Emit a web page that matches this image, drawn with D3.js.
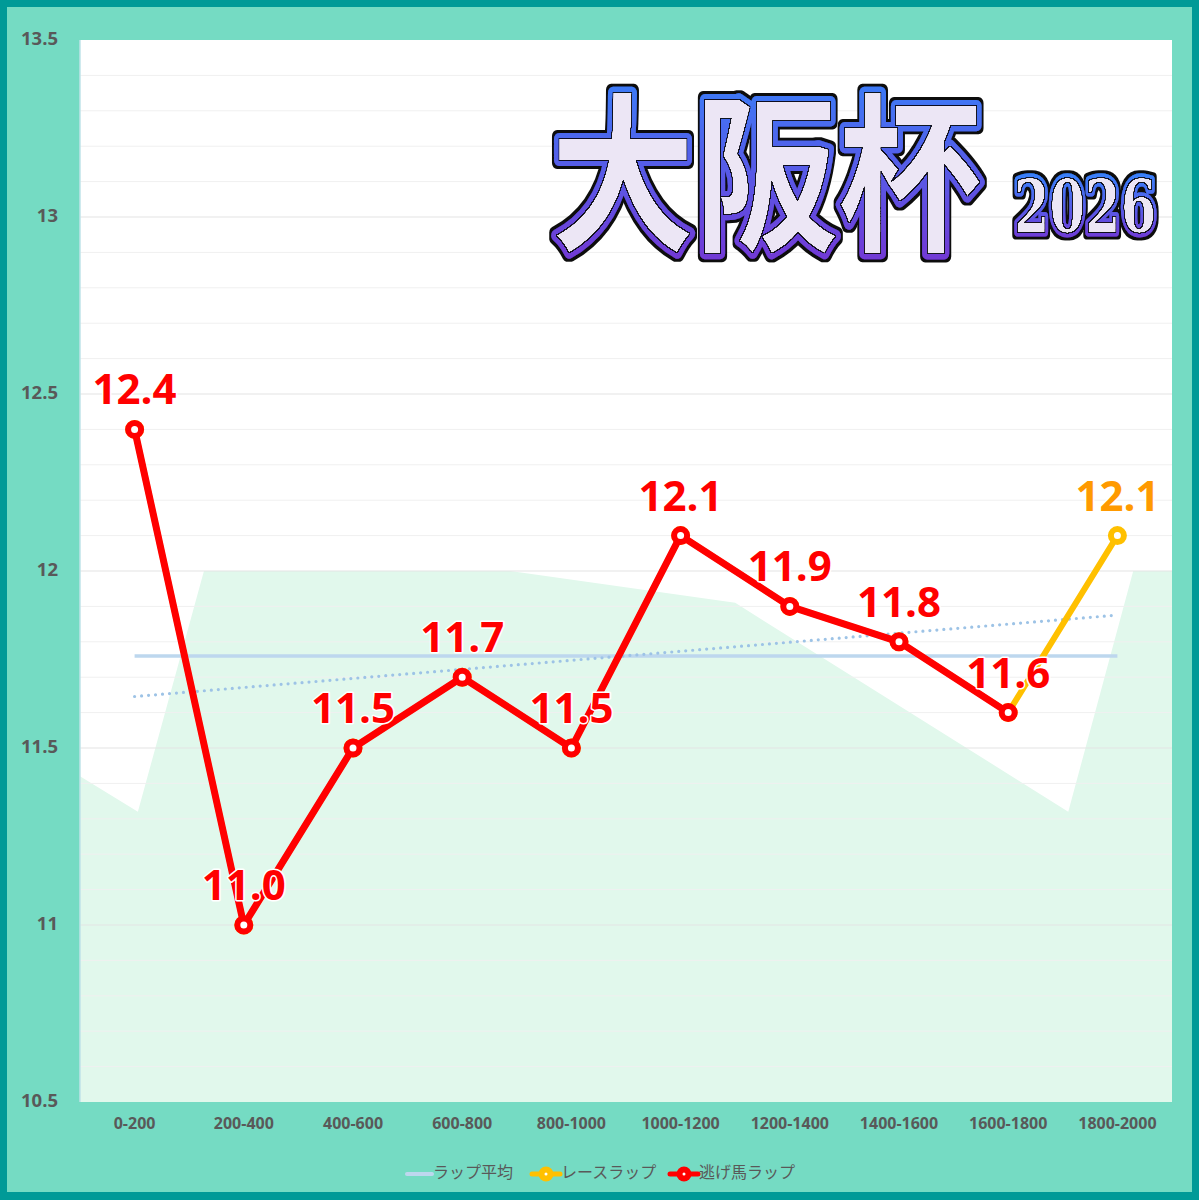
<!DOCTYPE html>
<html><head><meta charset="utf-8">
<script src="https://cdn.jsdelivr.net/npm/d3@7"></script>
<style>html,body{margin:0;padding:0;background:#fff;}svg{display:block;}</style>
</head><body>
<svg id="chart" width="1199" height="1200"></svg>
<script>
// ---- data ----
const categories = ["0-200","200-400","400-600","600-800","800-1000","1000-1200","1200-1400","1400-1600","1600-1800","1800-2000"];
const raceLap = [12.4,11.0,11.5,11.7,11.5,12.1,11.9,11.8,11.6,12.1];
const leaderLap = [12.4,11.0,11.5,11.7,11.5,12.1,11.9,11.8,11.6];
const yTicks = [10.5,11,11.5,12,12.5,13,13.5];
const bgDist = [0,106,227,788,1200,1810,1929,2000];
const bgValue = [11.42,11.32,12.0,12.0,11.91,11.32,12.0,12.0];
const legendLabels = ["ラップ平均","レースラップ","逃げ馬ラップ"];
const titleText = "大阪杯";
const yearText = "2026";

// ---- setup ----
const W = 1199, H = 1200;
const plot = {l:80, r:1172, t:40, b:1102};
const svg = d3.select("#chart");
const defs = svg.append("defs");
const grad = defs.append("linearGradient").attr("id","tg").attr("x1",0).attr("y1",0).attr("x2",0).attr("y2",1);
grad.append("stop").attr("offset","0%").attr("stop-color","#2F8BFF");
grad.append("stop").attr("offset","100%").attr("stop-color","#7A2FD0");

// outline filter: black outer edge + thin black line around the lavender fill
const f = defs.append("filter").attr("id","outline").attr("x","-10%").attr("y","-20%").attr("width","120%").attr("height","140%");
f.append("feMorphology").attr("in","SourceAlpha").attr("operator","dilate").attr("radius",2.5).attr("result","dil");
f.append("feFlood").attr("flood-color","#111").attr("result","blk");
f.append("feComposite").attr("in","blk").attr("in2","dil").attr("operator","in").attr("result","outer");
f.append("feColorMatrix").attr("in","SourceGraphic").attr("type","matrix")
  .attr("values","0 0 0 0 0  0 0 0 0 0  0 0 0 0 0  0 10 0 0 -7").attr("result","fm");
f.append("feMorphology").attr("in","fm").attr("operator","dilate").attr("radius",1.3).attr("result","fmd");
f.append("feComposite").attr("in","fmd").attr("in2","fm").attr("operator","out").attr("result","ring");
f.append("feComposite").attr("in","blk").attr("in2","ring").attr("operator","in").attr("result","inner");
const fm = f.append("feMerge");
fm.append("feMergeNode").attr("in","outer");
fm.append("feMergeNode").attr("in","SourceGraphic");
fm.append("feMergeNode").attr("in","inner");

svg.append("rect").attr("width",W).attr("height",H).attr("fill","#009A97");
svg.append("rect").attr("x",7).attr("y",7).attr("width",1185).attr("height",1185).attr("fill","#75DBC3");
svg.append("rect").attr("x",plot.l).attr("y",plot.t).attr("width",plot.r-plot.l).attr("height",plot.b-plot.t).attr("fill","#FFFFFF");

const x = d3.scaleBand().domain(categories).range([plot.l,plot.r]).padding(0);
const cx = c => x(c) + x.bandwidth()/2;
const y = d3.scaleLinear().domain([10.5,13.5]).range([plot.b,plot.t]);
const xd = d3.scaleLinear().domain([0,2000]).range([plot.l,plot.r]);

// background area
const bgData = bgDist.map((d,i)=>({d, v:bgValue[i]}));
svg.append("path").datum(bgData)
  .attr("d", d3.area().x(p=>xd(p.d)).y0(y(10.5)).y1(p=>y(p.v)))
  .attr("fill","#E1F8EC");

// gridlines
const minor = d3.range(10.6,13.5,0.1).map(v=>+v.toFixed(1)).filter(v=>!yTicks.includes(v));
svg.append("g").selectAll("line").data(minor).join("line")
  .attr("x1",plot.l).attr("x2",plot.r).attr("y1",d=>y(d)).attr("y2",d=>y(d))
  .attr("stroke","#F0F0F0").attr("stroke-width",1);
svg.append("g").selectAll("line").data(yTicks.slice(1,-1)).join("line")
  .attr("x1",plot.l).attr("x2",plot.r).attr("y1",d=>y(d)).attr("y2",d=>y(d))
  .attr("stroke","#E3E3E3").attr("stroke-width",1.2);
svg.append("line").attr("x1",plot.l).attr("x2",plot.l).attr("y1",plot.t).attr("y2",plot.b)
  .attr("stroke","#BFE3E8").attr("stroke-width",1.5);

// y axis
const yAxis = d3.axisLeft(y).tickValues(yTicks).tickFormat(d=>d3.format("")(d)).tickSize(0).tickPadding(0);
const ya = svg.append("g").attr("transform",`translate(58,0)`).call(yAxis);
ya.select(".domain").remove();
ya.selectAll("text").attr("font-family","'Open Sans',sans-serif").attr("font-weight",700)
  .attr("font-size",18.5).attr("fill","#595959").attr("dy","0.0em").attr("dominant-baseline","middle");

// x axis
const xAxis = d3.axisBottom(x).tickSize(0).tickPadding(0);
const xa = svg.append("g").attr("transform",`translate(0,1117)`).call(xAxis);
xa.select(".domain").remove();
xa.selectAll("text").attr("font-family","'Open Sans',sans-serif").attr("font-weight",700)
  .attr("font-size",16).attr("fill","#595959").attr("dy","0.72em");

// average line
const avg = d3.mean(raceLap);
svg.append("line").attr("x1",cx(categories[0])).attr("x2",cx(categories[categories.length-1]))
  .attr("y1",y(avg)).attr("y2",y(avg)).attr("stroke","#BDD7EE").attr("stroke-width",3.5);

// linear trend of race lap
const n = raceLap.length, mx = (n+1)/2, my = avg;
let sxy=0,sxx=0; raceLap.forEach((v,i)=>{sxy+=(i+1-mx)*(v-my); sxx+=(i+1-mx)*(i+1-mx);});
const slope = sxy/sxx, icpt = my - slope*mx;
svg.append("line").attr("x1",cx(categories[0])).attr("x2",cx(categories[n-1])-4)
  .attr("y1",y(icpt+slope)).attr("y2",y(icpt+slope*n))
  .attr("stroke","#9DC3E6").attr("stroke-width",3.2).attr("stroke-linecap","round").attr("stroke-dasharray","0 7");

// race lap (yellow)
const line = d3.line().x((d,i)=>cx(categories[i])).y(d=>y(d));
svg.append("path").datum(raceLap).attr("d",line).attr("fill","none")
  .attr("stroke","#FFC000").attr("stroke-width",6).attr("stroke-linejoin","round");
svg.append("g").selectAll("circle").data(raceLap).join("circle")
  .attr("cx",(d,i)=>cx(categories[i])).attr("cy",d=>y(d)).attr("r",6.5)
  .attr("fill","#fff").attr("stroke","#FFC000").attr("stroke-width",6);

// leader lap (red)
svg.append("path").datum(leaderLap).attr("d",line).attr("fill","none")
  .attr("stroke","#FF0000").attr("stroke-width",7).attr("stroke-linejoin","round");
svg.append("g").selectAll("circle").data(leaderLap).join("circle")
  .attr("cx",(d,i)=>cx(categories[i])).attr("cy",d=>y(d)).attr("r",6.5)
  .attr("fill","#fff").attr("stroke","#FF0000").attr("stroke-width",6);

// labels
const labelData = raceLap.map((v,i)=>({v,i,color: i<leaderLap.length ? "#FF0000" : "#FF9A00"}));
svg.append("g").selectAll("text").data(labelData).join("text")
  .attr("x",d=>cx(categories[d.i])).attr("y",d=>y(d.v)-25)
  .attr("text-anchor","middle").attr("font-family","'Open Sans',sans-serif").attr("font-weight",700)
  .attr("font-size",42).attr("fill",d=>d.color)
  .attr("stroke","#fff").attr("stroke-width",3).attr("paint-order","stroke").attr("stroke-linejoin","round")
  .text(d=>d.v.toFixed(1));

// title
function fancy(txt, xx, yy, sx, fs, family, weight, sw){
  svg.append("g").attr("transform",`translate(${xx},${yy}) scale(${sx},1)`).attr("filter","url(#outline)")
    .append("text").attr("x",0).attr("y",0).attr("font-family",family).attr("font-weight",weight)
    .attr("font-size",fs).attr("fill","#EDE7F6").attr("stroke","url(#tg)").attr("stroke-width",sw)
    .attr("stroke-linejoin","round").attr("paint-order","stroke").text(txt);
}
fancy(titleText, 551, 238, 0.845, 170, "'Noto Sans CJK JP'", 700, 12);
fancy(yearText, 1014, 232, 0.70, 73, "'DejaVu Serif'", 700, 9);

// legend
const lg = svg.append("g").attr("font-family","'Noto Sans CJK JP',sans-serif").attr("font-size",16).attr("fill","#595959");
const ly = 1174;
lg.append("line").attr("x1",407).attr("x2",432).attr("y1",ly).attr("y2",ly).attr("stroke","#BDD7EE").attr("stroke-width",4).attr("stroke-linecap","round");
lg.append("text").attr("x",433).attr("y",ly).attr("dominant-baseline","middle").text(legendLabels[0]);
[[546,"#FFC000",561,legendLabels[1]],[684,"#FF0000",699,legendLabels[2]]].forEach(([c,col,tx,t])=>{
  lg.append("line").attr("x1",c-14).attr("x2",c+14).attr("y1",ly).attr("y2",ly).attr("stroke",col).attr("stroke-width",5).attr("stroke-linecap","round");
  lg.append("circle").attr("cx",c).attr("cy",ly).attr("r",7.5).attr("fill",col);
  lg.append("circle").attr("cx",c).attr("cy",ly).attr("r",1.5).attr("fill","#fff");
  lg.append("text").attr("x",tx).attr("y",ly).attr("dominant-baseline","middle").text(t);
});
</script>
</body></html>
